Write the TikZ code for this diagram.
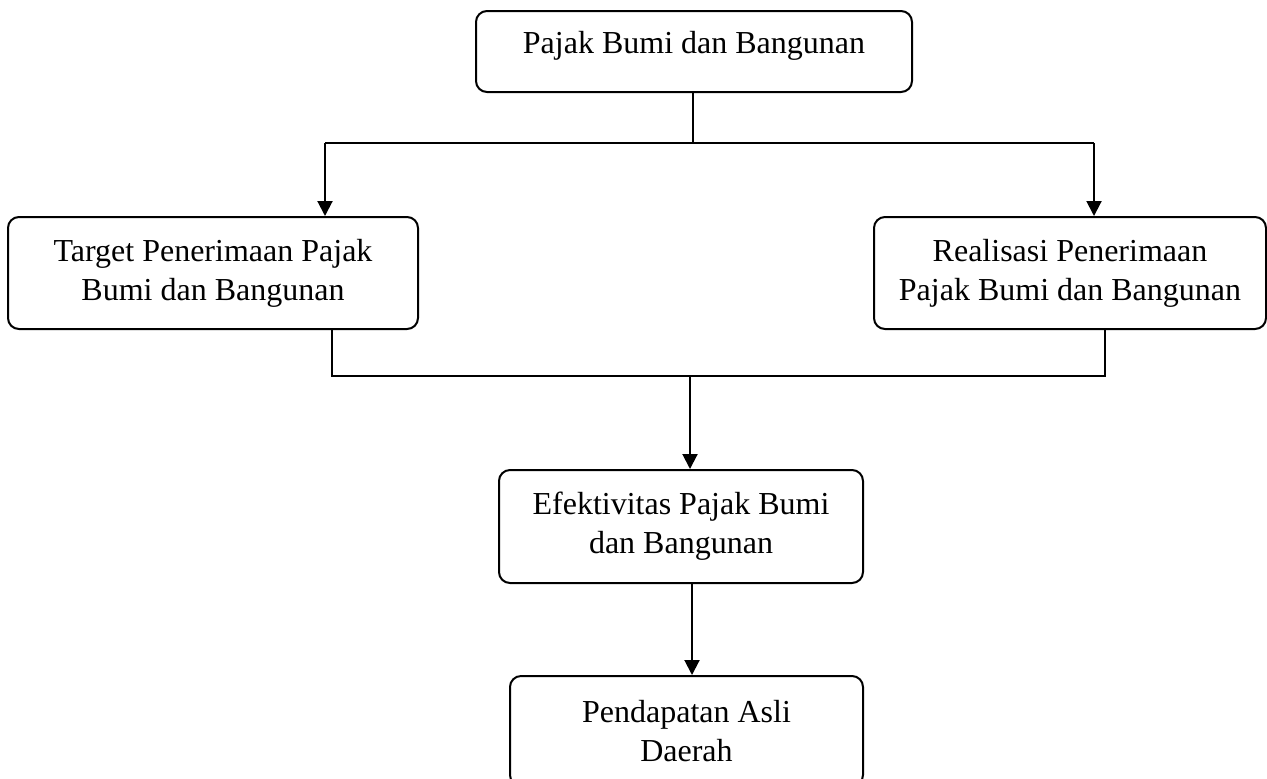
\documentclass[tikz,border=0pt]{standalone}
\usepackage{fontspec}
\setmainfont{Liberation Serif}
\usetikzlibrary{arrows.meta}
\tikzset{
  box/.style={draw, line width=1pt, rounded corners=5.5pt, align=center, inner sep=0pt,
    font=\fontsize{16}{19.5}\selectfont},
  conn/.style={line width=1pt},
  arr/.style={line width=1pt, -{Triangle[length=7.5pt,width=7.5pt]}}
}
\begin{document}
\begin{tikzpicture}[x=0.5pt,y=-0.5pt]
\clip (0,0) rectangle (1267,778);
\node[box, minimum width=218pt, minimum height=40.5pt, text height=10.9pt, text depth=9.4pt] (top) at (694,51.5) {Pajak Bumi dan Bangunan};
\node[box, minimum width=205pt, minimum height=56pt] (left) at (213,273) {Target Penerimaan Pajak\\Bumi dan Bangunan};
\node[box, minimum width=196pt, minimum height=56pt] (right) at (1070,273) {Realisasi Penerimaan\\Pajak Bumi dan Bangunan};
\node[box, minimum width=182pt, minimum height=56.5pt] (mid) at (681,526.5) {Efektivitas Pajak Bumi\\dan Bangunan};
\node[box, minimum width=176.5pt, minimum height=55pt] (bot) at (686.5,731) {Pendapatan Asli\\Daerah};
\coordinate (j1) at (693,143);
\coordinate (tl) at (325,143);
\coordinate (tr) at (1094,143);
\coordinate (bl) at (332,376);
\coordinate (br) at (1105,376);
\coordinate (j2) at (690,376);
\coordinate (j3) at (692,600);
\draw[conn] (j1 |- top.south) -- (j1);
\draw[conn] (tl) -- (tr);
\draw[arr] (tl) -- (tl |- left.north);
\draw[arr] (tr) -- (tr |- right.north);
\draw[conn] (bl |- left.south) -- (bl) -- (br) -- (br |- right.south);
\draw[arr] (j2) -- (j2 |- mid.north);
\draw[arr] (j3 |- mid.south) -- (j3 |- bot.north);
\end{tikzpicture}
\end{document}
